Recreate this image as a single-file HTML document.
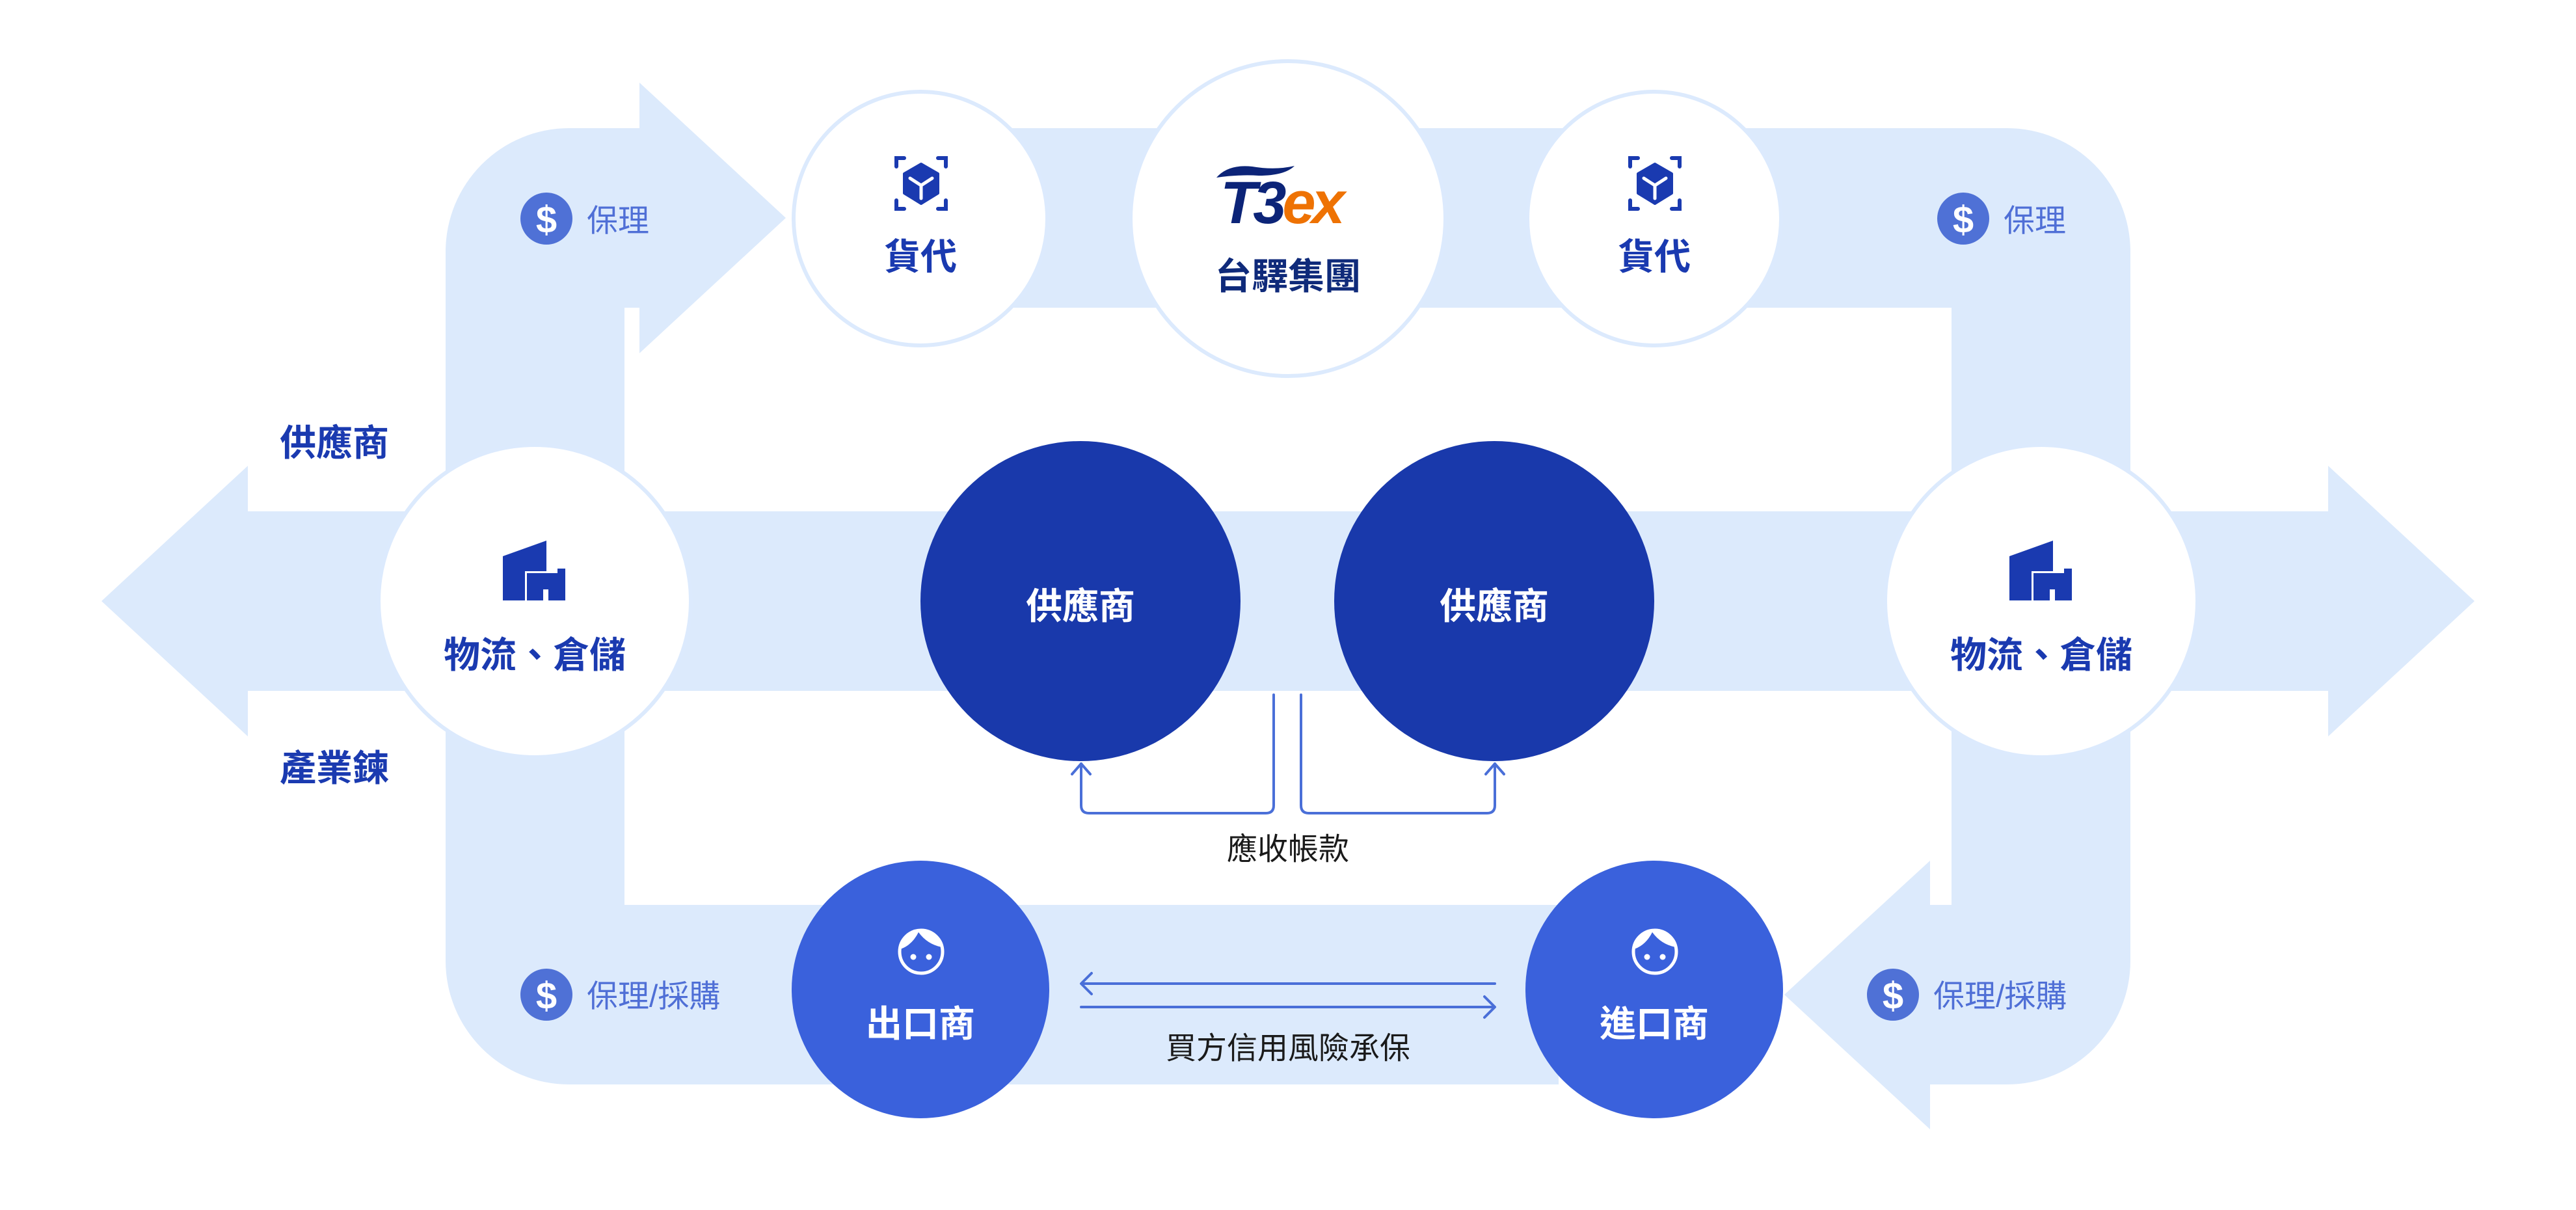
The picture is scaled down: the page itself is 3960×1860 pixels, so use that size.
<!DOCTYPE html>
<html><head><meta charset="utf-8"><style>
html,body{margin:0;padding:0;background:#fff;}
svg{display:block;}
.b{font-family:"Liberation Sans","Noto Sans CJK TC",sans-serif;font-weight:700;}
.r{font-family:"Liberation Sans","Noto Sans CJK TC",sans-serif;font-weight:400;}
</style></head><body>
<svg width="3960" height="1860" viewBox="0 0 3960 1860" xmlns="http://www.w3.org/2000/svg">
<defs>
<clipPath id="fc"><circle cx="0" cy="0" r="31"/></clipPath>
<g id="face">
  <g clip-path="url(#fc)"><path d="M-40 -2 Q-16 -6 -4 -30 Q12 -8 40 -6 L40 -40 L-40 -40 Z" fill="#fff"/></g>
  <circle cx="0" cy="0" r="33" fill="none" stroke="#fff" stroke-width="5"/>
  <circle cx="-12" cy="8" r="4.5" fill="#fff"/><circle cx="12" cy="8" r="4.5" fill="#fff"/>
</g>
<g id="box">
  <g fill="none" stroke="#1a3ab0" stroke-width="6" stroke-linecap="round">
    <path d="M-26 -39 H-38 V-26"/><path d="M26 -39 H38 V-26"/>
    <path d="M-38 26 V39 H-26"/><path d="M38 26 V39 H26"/>
  </g>
  <polygon points="0,-30 26,-15 26,15 0,31 -26,15 -26,-15" fill="#1a3ab0" stroke="#1a3ab0" stroke-width="4" stroke-linejoin="round"/>
  <g stroke="#fff" stroke-width="5" stroke-linecap="round" fill="none"><path d="M0 3 L-17 -8"/><path d="M0 3 L17 -8"/><path d="M0 3 L0 23"/></g>
</g>
<g id="bld">
  <polygon points="0,24 67,0 67,92 0,92" fill="#1a3ab0"/>
  <rect x="34" y="47" width="65" height="48" fill="#fff"/>
  <circle cx="90" cy="48" r="9" fill="#fff"/>
  <rect x="37" y="50" width="59" height="42" fill="#1a3ab0"/>
  <circle cx="90" cy="49" r="6" fill="#1a3ab0"/>
  <rect x="84" y="43" width="12" height="10" fill="#1a3ab0"/>
  <rect x="62" y="75" width="8" height="17" fill="#fff"/>
</g>
<g id="dollar">
  <circle cx="0" cy="0" r="40" fill="#4f71d6"/>
  <text x="0" y="2" text-anchor="middle" dominant-baseline="central" fill="#fff" font-family="Liberation Sans,sans-serif" font-size="58" font-weight="700">$</text>
</g>
</defs>

<!-- bands -->
<g fill="#dceafc">
  <path d="M983 197 L983 127 L1208 335 L983 543 L983 473 L960 473 L960 1391 L2396 1391 L2396 1667 L875 1667 A190 190 0 0 1 685 1477 L685 387 A190 190 0 0 1 875 197 Z"/>
  <path d="M1415 197 L3085 197 A190 190 0 0 1 3275 387 L3275 1477 A190 190 0 0 1 3085 1667 L2967 1667 L2967 1736 L2743 1529 L2967 1323 L2967 1391 L3000 1391 L3000 473 L1415 473 Z"/>
  <path d="M381 786 L3579 786 L3579 716 L3804 924 L3579 1132 L3579 1062 L381 1062 L381 1132 L156 924 L381 716 Z"/>
</g>

<!-- white circles -->
<g fill="#fff" stroke="#dceafd" stroke-width="6">
  <circle cx="1415" cy="336" r="195"/>
  <circle cx="1980" cy="336" r="242"/>
  <circle cx="2543" cy="336" r="195"/>
  <circle cx="822" cy="924" r="240"/>
  <circle cx="3138" cy="924" r="240"/>
</g>

<!-- suppliers -->
<circle cx="1661" cy="924" r="246" fill="#1939ab"/>
<circle cx="2297" cy="924" r="246" fill="#1939ab"/>
<!-- exporter/importer -->
<circle cx="1415" cy="1521" r="198" fill="#3a61dc"/>
<circle cx="2543" cy="1521" r="198" fill="#3a61dc"/>

<!-- icons -->
<use href="#box" x="1416" y="282"/>
<use href="#box" x="2544" y="282"/>
<use href="#bld" x="773" y="831"/>
<use href="#bld" x="3089" y="831"/>
<use href="#face" x="1416" y="1463"/>
<use href="#face" x="2544" y="1463"/>
<use href="#dollar" x="840" y="336"/>
<use href="#dollar" x="3018" y="336"/>
<use href="#dollar" x="840" y="1529"/>
<use href="#dollar" x="2910" y="1529"/>

<!-- logo -->
<path d="M1870 273 Q1888 252 1925 256 Q1960 262 1990 255 Q1975 270 1935 270 Q1905 268 1870 273 Z" fill="#0c2478"/>
<text x="1876" y="343" font-family="Liberation Sans,sans-serif" font-weight="700" font-style="italic" font-size="92" letter-spacing="-6" fill="#0c2478">T3<tspan fill="#ee7203">ex</tspan></text>

<!-- labels -->
<g class="b" font-size="56" text-anchor="middle" dominant-baseline="central">
  <text x="1415" y="395" fill="#1a3ab0">貨代</text>
  <text x="2543" y="395" fill="#1a3ab0">貨代</text>
  <text x="1980" y="425" fill="#0f2a7a">台驛集團</text>
  <text x="822" y="1007" fill="#1a3ab0">物流、倉儲</text>
  <text x="3138" y="1007" fill="#1a3ab0">物流、倉儲</text>
  <text x="514" y="681" fill="#1a3ab0">供應商</text>
  <text x="514" y="1181" fill="#1a3ab0">產業鍊</text>
  <text x="1661" y="932" fill="#fff">供應商</text>
  <text x="2297" y="932" fill="#fff">供應商</text>
  <text x="1415" y="1574" fill="#fff">出口商</text>
  <text x="2543" y="1574" fill="#fff">進口商</text>
</g>
<g class="r" font-size="48" dominant-baseline="central" fill="#4f6fd6">
  <text x="902" y="340">保理</text>
  <text x="3080" y="340">保理</text>
  <text x="902" y="1532">保理/採購</text>
  <text x="2972" y="1532">保理/採購</text>
</g>
<g class="r" font-size="47" text-anchor="middle" dominant-baseline="central" fill="#1a1a1a">
  <text x="1980" y="1305">應收帳款</text>
  <text x="1980" y="1611">買方信用風險承保</text>
</g>

<!-- connectors -->
<g fill="none" stroke="#4a6fd8" stroke-width="4" stroke-linecap="round" stroke-linejoin="round">
  <path d="M1958 1068 V1238 Q1958 1250 1946 1250 H1674 Q1662 1250 1662 1238 V1174"/>
  <path d="M1648 1190 L1662 1174 L1676 1190"/>
  <path d="M2000 1068 V1238 Q2000 1250 2012 1250 H2286 Q2298 1250 2298 1238 V1174"/>
  <path d="M2284 1190 L2298 1174 L2312 1190"/>
  <path d="M1664 1512 H2298"/>
  <path d="M1678 1496 L1662 1512 L1678 1528"/>
  <path d="M1662 1548 H2296"/>
  <path d="M2282 1532 L2298 1548 L2282 1564"/>
</g>
</svg>
</body></html>
